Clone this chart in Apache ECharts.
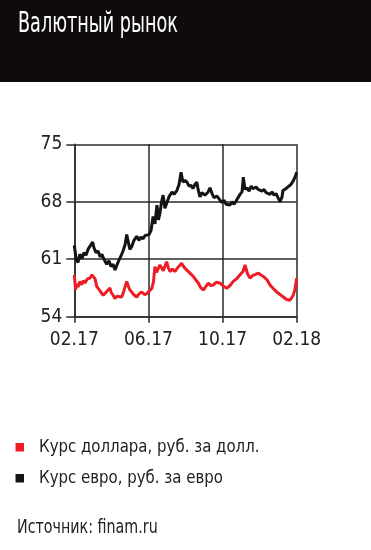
<!DOCTYPE html>
<html><head><meta charset="utf-8">
<script src="https://cdn.jsdelivr.net/npm/echarts@6/dist/echarts.min.js"></script>
<style>html,body{margin:0;padding:0;background:#fff;}#c{width:371px;height:550px;}</style>
</head><body><div id="c"></div>
<script>
// x positions in months since 02.2017
var tickLabels = ['02.17', '06.17', '10.17', '02.18'];
var seriesNames = ['Курс доллара, руб. за долл.', 'Курс евро, руб. за евро'];
var titleText = 'Валютный рынок';
var sourceText = 'Источник: finam.ru';

var usdMonths = [0,0.07,0.13,0.2,0.3,0.4,0.5,0.58,0.7,0.85,0.95,1.03,1.12,1.21,1.3,1.4,1.56,1.68,1.8,1.92,2.0,2.1,2.19,2.3,2.4,2.56,2.68,2.83,2.92,3.0,3.1,3.2,3.37,3.5,3.64,3.8,3.91,4.0,4.18,4.27,4.35,4.44,4.53,4.62,4.71,4.8,4.98,5.07,5.16,5.3,5.43,5.55,5.79,5.9,6.06,6.2,6.42,6.55,6.69,6.8,6.96,7.1,7.23,7.35,7.5,7.65,7.86,8.0,8.22,8.4,8.58,8.75,8.94,9.1,9.21,9.35,9.48,9.62,9.93,10.05,10.2,10.4,10.56,10.75,10.92,11.1,11.28,11.45,11.64,11.75,11.82,11.9,12.0];
var usdValues = [59.1,57.3,58.0,57.6,58.3,57.9,58.4,58.1,58.6,58.7,59.1,59.3,58.6,57.7,57.5,57.1,56.6,56.9,57.2,57.5,56.9,56.6,56.2,56.5,56.3,56.4,57.2,58.3,57.7,57.25,57.0,56.7,56.4,56.8,57.0,56.7,56.8,57.0,57.45,58.2,60.1,59.4,59.5,60.3,60.1,59.6,60.7,60.0,59.5,59.8,59.5,59.9,60.5,60.1,59.7,59.4,58.9,58.5,58.1,57.6,57.25,57.7,58.1,57.8,57.85,58.2,58.1,57.8,57.45,57.8,58.3,58.6,59.1,59.5,60.3,59.2,58.7,59.0,59.3,59.1,58.9,58.5,57.85,57.4,57.0,56.7,56.4,56.1,56.0,56.4,56.65,57.3,58.7];

var eurMonths = [0,0.1,0.2,0.3,0.42,0.52,0.63,0.74,0.85,0.99,1.06,1.17,1.28,1.39,1.49,1.6,1.75,1.87,1.98,2.09,2.2,2.3,2.41,2.52,2.63,2.74,2.83,2.9,3.0,3.11,3.22,3.37,3.49,3.6,3.71,3.82,3.92,4.03,4.14,4.25,4.35,4.46,4.54,4.62,4.7,4.79,4.89,5.0,5.11,5.27,5.38,5.54,5.65,5.76,5.86,5.97,6.08,6.19,6.3,6.4,6.51,6.61,6.68,6.78,6.89,7.05,7.22,7.32,7.43,7.54,7.7,7.86,7.97,8.08,8.19,8.29,8.4,8.51,8.62,8.73,8.83,8.94,9.05,9.12,9.21,9.32,9.43,9.54,9.64,9.81,9.92,10.02,10.13,10.24,10.35,10.45,10.56,10.67,10.78,10.89,10.99,11.1,11.21,11.26,11.37,11.47,11.58,11.69,11.8,11.91,12.0];
var eurValues = [62.7,61.0,60.6,61.6,61.1,61.8,61.5,62.2,62.6,63.1,62.4,61.8,62.0,61.3,61.6,61.0,60.4,60.8,60.1,60.4,59.7,60.3,60.9,61.4,62.0,62.8,64.0,63.2,62.2,62.6,63.3,63.8,63.3,63.7,63.5,63.9,63.8,64.0,64.5,66.2,65.3,67.6,65.8,66.6,67.9,68.8,67.2,67.9,68.6,69.2,68.9,69.4,70.1,71.6,70.4,70.6,70.4,69.9,70.0,69.6,70.1,70.4,69.5,68.6,69.1,68.8,69.2,69.7,69.0,68.5,68.7,68.2,67.9,68.2,67.7,67.9,67.6,68.0,67.7,68.1,68.0,68.9,69.2,71.0,69.5,69.7,69.3,69.9,69.6,69.8,69.5,69.7,69.3,69.5,69.1,69.3,68.9,69.2,68.8,69.0,68.5,68.0,68.6,69.4,69.5,69.7,69.9,70.1,70.5,71.0,71.6];

var seriesColors = ['#ee1c25', '#141414'];

function pairs(xs, ys){ return xs.map(function(x,i){ return [x, ys[i]]; }); }

var FONT = "'DejaVu Sans Condensed','Liberation Sans Narrow','Roboto',sans-serif";
function narrowText(str, x, y, size, scaleX, color){
  return {type:'text', x:x, y:y, scaleX:scaleX, scaleY:1,
    style:{text:str, font: size + 'px ' + FONT, fill:color, verticalAlign:'middle', align:'left'}};
}

var graphics = [
  {type:'rect', shape:{x:0,y:0,width:371,height:82}, style:{fill:'#0f0b0b'}, z:-1},
  narrowText(titleText, 18, 24.5, 28, 0.70, '#ffffff'),
  {type:'rect', shape:{x:15.5,y:443,width:8.5,height:8.5}, style:{fill:seriesColors[0]}},
  narrowText(seriesNames[0], 39, 447.5, 18, 0.925, '#222'),
  {type:'rect', shape:{x:15.5,y:474,width:8.5,height:8.5}, style:{fill:seriesColors[1]}},
  narrowText(seriesNames[1], 39, 478.5, 18, 0.925, '#222'),
  narrowText(sourceText, 17, 528.5, 19, 0.835, '#222')
];

var chart = echarts.init(document.getElementById('c'), null, {renderer:'canvas'});
chart.setOption({
  animation: false,
  backgroundColor: '#fff',
  textStyle: {fontFamily: FONT},
  graphic: graphics,
  grid: {left: 74.3, right: 74.3, top: 144.3, height: 172.4},
  xAxis: {
    type:'value', min:0, max:12, interval:4,
    axisLine:{show:true, lineStyle:{color:'#2a2a2a', width:1.5}},
    axisTick:{show:true, length:6, lineStyle:{color:'#2a2a2a', width:1.5}},
    splitLine:{show:true, lineStyle:{color:'#2a2a2a', width:1.5}},
    axisLabel:{fontSize:19, color:'#222', margin:14, fontFamily: FONT,
      formatter:function(v){ return tickLabels[Math.round(v/4)]; }}
  },
  yAxis: {
    type:'value', min:54, max:75, interval:7,
    axisLine:{show:true, lineStyle:{color:'#2a2a2a', width:1.5}},
    axisTick:{show:true, length:8, lineStyle:{color:'#2a2a2a', width:1.5}},
    splitLine:{show:true, lineStyle:{color:'#2a2a2a', width:1.5}},
    axisLabel:{fontSize:19, color:'#222', margin:12, fontFamily: FONT}
  },
  series: [
    {name: seriesNames[0], type:'line', data: pairs(usdMonths, usdValues), showSymbol:false,
      color:seriesColors[0], lineStyle:{width:3, color:seriesColors[0]}},
    {name: seriesNames[1], type:'line', data: pairs(eurMonths, eurValues), showSymbol:false,
      color:seriesColors[1], lineStyle:{width:3, color:seriesColors[1]}}
  ]
});
</script></body></html>
